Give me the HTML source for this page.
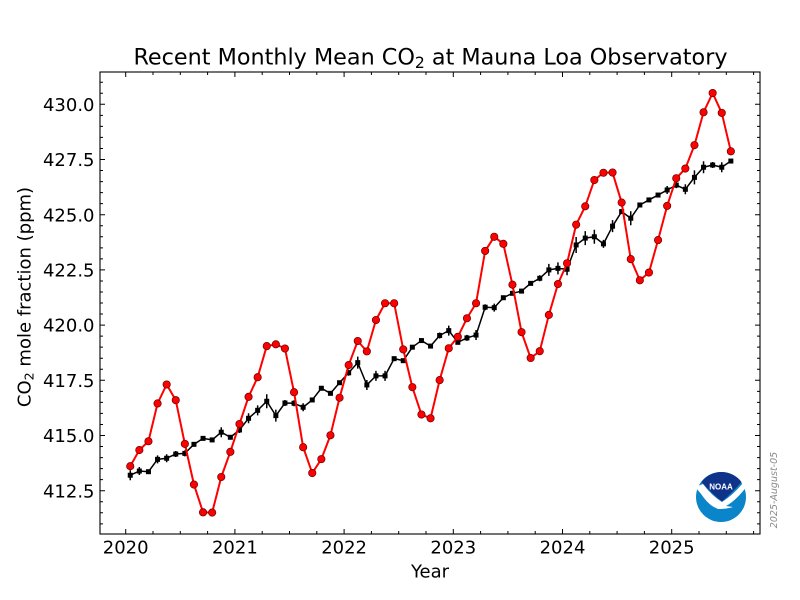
<!DOCTYPE html>
<html><head><meta charset="utf-8">
<style>
html,body{margin:0;padding:0;background:#fff;}
svg{display:block;font-family:"DejaVu Sans","Liberation Sans",sans-serif;}
</style></head>
<body>
<svg id="c" width="800" height="600" viewBox="0 0 800 600" xmlns="http://www.w3.org/2000/svg">
<rect x="0" y="0" width="800" height="600" fill="#fff"/>
<g id="ticks"></g>
<g id="series"></g>
<rect x="100" y="72" width="660" height="462" fill="none" stroke="#000" stroke-width="1.1"/>
<g id="labels" font-size="18" fill="#000"></g>
<text x="430.5" y="64.3" font-size="22.3" text-anchor="middle" fill="#000">Recent Monthly Mean CO<tspan font-size="15.6" dy="3.6">2</tspan><tspan dy="-3.6"> at Mauna Loa Observatory</tspan></text>
<text x="430" y="577.3" font-size="18" text-anchor="middle" fill="#000">Year</text>
<text transform="translate(30.5,297) rotate(-90)" x="0" y="0" font-size="18" text-anchor="middle" fill="#000">CO<tspan font-size="12.6" dy="3">2</tspan><tspan dy="-3"> mole fraction (ppm)</tspan></text>
<text transform="translate(777,490) rotate(-90)" x="0" y="0" font-size="9.5" font-style="italic" text-anchor="middle" fill="#8a8a8a">2025-August-05</text>
<g>
<circle cx="721" cy="497" r="25" fill="#0a85c9"/>
<path d="M701.5,482 A25,25 0 0 1 741.5,482 Q731,494 722,501.5 Q712,494 701.5,482 Z" fill="#10338a"/>
<path d="M695,487 Q700,485 703,484 Q712,496 722,502 Q733,495 743,483 Q746,483.5 748.5,484 Q737,500 726,506 L733,507 Q727,509 718,509 Q710,506 704,498 Q699,491 695,487 Z" fill="#fff"/>
<text x="721" y="489.5" font-size="8" font-weight="bold" text-anchor="middle" fill="#fff" font-family="Liberation Sans, sans-serif">NOAA</text>
</g>
</svg>
<script>
(function(){
var NS="http://www.w3.org/2000/svg";
function X(t){return 125.7+(t-2020)*109.2;}
function Y(v){return 104.3+(430-v)*22.08;}
function el(tag,attrs,parent,txt){var e=document.createElementNS(NS,tag);for(var k in attrs)e.setAttribute(k,attrs[k]);if(txt!==undefined)e.textContent=txt;parent.appendChild(e);return e;}
var tk=document.getElementById('ticks');
var lb=document.getElementById('labels');
var d="";
for(var t=2019.75;t<=2025.81;t+=0.25){
  var x=X(t); if(x<100.5||x>759.5) continue;
  var isMaj=Math.abs(t-Math.round(t))<1e-6;
  var L=isMaj?5:3;
  d+="M"+x.toFixed(2)+",534V"+(534-L)+"M"+x.toFixed(2)+",72V"+(72+L);
}
el('path',{d:d,stroke:'#000','stroke-width':'1',fill:'none'},tk);
d="";
for(var v=411;v<=431.5;v+=0.5){
  var y=Y(v); if(y<72.5||y>533.5) continue;
  var isMaj=Math.abs(v/2.5-Math.round(v/2.5))<1e-6;
  var L=isMaj?5:3;
  d+="M100,"+y.toFixed(2)+"H"+(100+L)+"M760,"+y.toFixed(2)+"H"+(760-L);
}
el('path',{d:d,stroke:'#000','stroke-width':'1',fill:'none'},tk);
for(var yr=2020;yr<=2025;yr++){
  el('text',{x:X(yr).toFixed(2),y:553.3,'text-anchor':'middle'},lb,String(yr));
}
for(var v=412.5;v<=430.01;v+=2.5){
  el('text',{x:94.5,y:(Y(v)+6.6).toFixed(2),'text-anchor':'end'},lb,v.toFixed(1));
}
var red=[413.61,414.34,414.74,416.45,417.31,416.60,414.62,412.78,411.52,411.51,413.12,414.26,
415.52,416.75,417.64,419.05,419.13,418.94,416.96,414.47,413.30,413.93,415.01,416.71,
418.19,419.28,418.81,420.23,420.99,420.99,418.90,417.19,415.95,415.78,417.51,418.95,
419.47,420.31,420.99,423.36,424.00,423.68,421.83,419.68,418.51,418.82,420.46,421.86,
422.80,424.55,425.38,426.57,426.90,426.91,425.55,422.99,422.03,422.38,423.85,425.40,
426.65,427.09,428.15,429.64,430.51,429.61,427.87];
var blk=[413.20,413.39,413.36,413.92,413.97,414.16,414.19,414.60,414.87,414.80,415.15,414.92,
415.25,415.78,416.14,416.55,415.90,416.47,416.46,416.28,416.61,417.14,416.91,417.39,
417.84,418.30,417.29,417.70,417.70,418.48,418.39,419.00,419.30,419.05,419.53,419.75,
419.22,419.42,419.55,420.81,420.79,421.24,421.44,421.54,421.89,422.12,422.50,422.57,
422.53,423.63,423.94,424.00,423.68,424.48,425.14,424.84,425.44,425.67,425.89,426.12,
426.34,426.15,426.69,427.15,427.25,427.15,427.43];
var err=[5,4,0,4,4,3,3,0,0,0,5,0,
3,5,5,7,6,3,3,4,0,0,0,0,
3,6,5,5,5,0,2,0,0,0,3,5,
2,3,5,3,4,0,0,0,0,3,6,6,
6,8,7,7,4,6,0,7,0,0,0,4,
3,5,7,6,3,5,0];
var sr=document.getElementById('series');
function tt(i){var yr=2020+Math.floor(i/12),m=i%12+1;return yr+(m-0.5)/12;}
var p="";
for(var i=0;i<blk.length;i++){p+=(i?"L":"M")+X(tt(i)).toFixed(2)+","+Y(blk[i]).toFixed(2);}
el('path',{d:p,stroke:'#000','stroke-width':'1.5',fill:'none','stroke-linejoin':'round'},sr);
var eb="";
for(var i=0;i<blk.length;i++){if(err[i]>0){var x=X(tt(i)),y=Y(blk[i]);eb+="M"+x.toFixed(2)+","+(y-err[i]).toFixed(2)+"V"+(y+err[i]).toFixed(2);}}
el('path',{d:eb,stroke:'#000','stroke-width':'1.5',fill:'none'},sr);
for(var i=0;i<blk.length;i++){var x=X(tt(i)),y=Y(blk[i]);el('rect',{x:(x-2.5).toFixed(2),y:(y-2.5).toFixed(2),width:5,height:5,fill:'#000'},sr);}
p="";
for(var i=0;i<red.length;i++){p+=(i?"L":"M")+X(tt(i)).toFixed(2)+","+Y(red[i]).toFixed(2);}
el('path',{d:p,stroke:'#ff0000','stroke-width':'2','fill':'none','stroke-linejoin':'round'},sr);
for(var i=0;i<red.length;i++){el('circle',{cx:X(tt(i)).toFixed(2),cy:Y(red[i]).toFixed(2),r:3.7,fill:'#ff0000',stroke:'#600','stroke-width':'0.7'},sr);}
})();
</script>
</body></html>
